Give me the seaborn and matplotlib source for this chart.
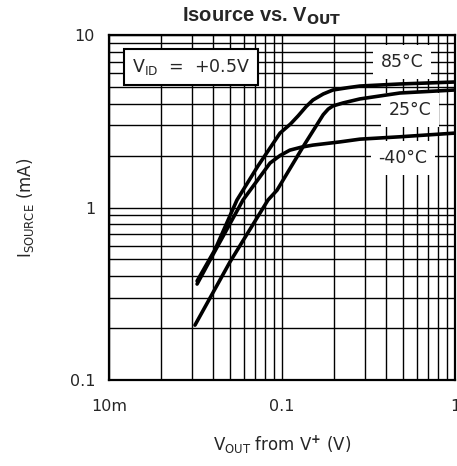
import numpy as np
import pandas as pd
import matplotlib
matplotlib.use("Agg")
import matplotlib.pyplot as plt
import seaborn as sns

# Curve data (V_OUT from V+ in volts, I_SOURCE in mA)
v_85 = [0.0323, 0.041, 0.0549, 0.0726, 0.0974, 0.112, 0.124, 0.138, 0.151, 0.173, 0.197, 0.24, 0.282, 0.48, 1.0]
i_85 = [0.375, 0.57, 1.105, 1.74, 2.70, 3.05, 3.40, 3.85, 4.20, 4.55, 4.80, 4.95, 5.06, 5.2, 5.34]

v_25 = [0.0314, 0.05, 0.083, 0.0936, 0.132, 0.173, 0.185, 0.197, 0.226, 0.282, 0.48, 1.0]
i_25 = [0.208, 0.483, 1.105, 1.26, 2.24, 3.45, 3.72, 3.88, 4.04, 4.26, 4.61, 4.80]

v_m40 = [0.0323, 0.041, 0.0595, 0.0853, 0.0974, 0.111, 0.13, 0.151, 0.216, 0.282, 0.48, 1.0]
i_m40 = [0.36, 0.56, 1.105, 1.81, 2.0, 2.15, 2.24, 2.30, 2.40, 2.49, 2.57, 2.70]

temps = ["85°C", "25°C", "-40°C"]

x_ticks = [0.01, 0.1, 1]
x_ticklabels = ["10m", "0.1", "1"]
y_ticks = [0.1, 1, 10]
y_ticklabels = ["0.1", "1", "10"]

df = pd.concat([
    pd.DataFrame({"vout": v_85, "isrc": i_85, "temp": temps[0]}),
    pd.DataFrame({"vout": v_25, "isrc": i_25, "temp": temps[1]}),
    pd.DataFrame({"vout": v_m40, "isrc": i_m40, "temp": temps[2]}),
])

sns.set_style("white")
plt.rcParams["font.family"] = ["DejaVu Sans"]
plt.rcParams["mathtext.fontset"] = "dejavusans"

fig = plt.figure(figsize=(4.57, 4.66), dpi=100)
ax = fig.add_axes([109 / 457, 86 / 466, 346 / 457, 345 / 466])

sns.lineplot(data=df, x="vout", y="isrc", hue="temp",
             palette=["black"] * 3, linewidth=2.6, legend=False,
             sort=False, estimator=None, ax=ax, zorder=3)

ax.set_xscale("log")
ax.set_yscale("log")
ax.set_xlim(0.01, 1)
ax.set_ylim(0.1, 10)

ax.grid(True, which="both", color="black", linewidth=1.0)
ax.set_axisbelow(True)
for s in ax.spines.values():
    s.set_color("black")
    s.set_linewidth(1.6)

ax.set_xticks(x_ticks)
ax.set_xticklabels(x_ticklabels)
ax.set_yticks(y_ticks)
ax.set_yticklabels(y_ticklabels)
ax.tick_params(which="both", length=0, labelsize=11.5)
ax.tick_params(axis="x", pad=14)
ax.tick_params(axis="y", pad=10)

ax.set_xlabel(r"V$_{\mathrm{OUT}}$ from V$^{\mathbf{+}}$ (V)", fontsize=12, labelpad=14)
ax.set_ylabel(r"I$_{\mathrm{SOURCE}}$ (mA)", fontsize=12, labelpad=24)

fig.text(262 / 457, 1 - 16 / 466, r"Isource vs. V$_{\mathbf{OUT}}$",
         ha="center", va="center", fontsize=14.5, fontweight="bold",
         family="Liberation Sans")

# temperature labels with white boxes that hide the grid
lab_box = dict(boxstyle="square,pad=0.45", fc="white", ec="none")
ax.text(0.847, 0.922, temps[0], transform=ax.transAxes, ha="center", va="center",
        fontsize=12.5, bbox=lab_box, zorder=2.5)
ax.text(0.87, 0.783, temps[1], transform=ax.transAxes, ha="center", va="center",
        fontsize=12.5, bbox=lab_box, zorder=2.5)
ax.text(0.85, 0.643, temps[2], transform=ax.transAxes, ha="center", va="center",
        fontsize=12.5, bbox=lab_box, zorder=2.5)

ax.text(0.237, 0.907, r"V$_{\mathrm{ID}}$  =  +0.5V", transform=ax.transAxes,
        ha="center", va="center", fontsize=12.5, zorder=4,
        bbox=dict(boxstyle="square,pad=0.45", fc="white", ec="black", lw=1.5))

fig.savefig("out.png", dpi=100)
